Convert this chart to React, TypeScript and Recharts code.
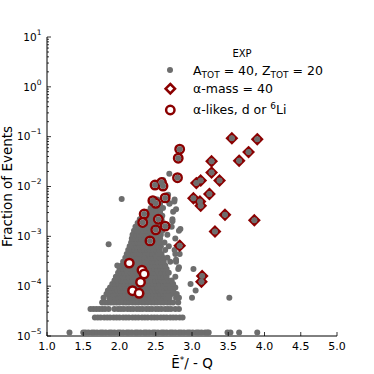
import React from 'react';
import { ScatterChart, Scatter, XAxis, YAxis, Customized } from 'recharts';

// ---------- axis ticks ----------
const xTickValues = [1.0, 1.5, 2.0, 2.5, 3.0, 3.5, 4.0, 4.5, 5.0];
const xTickLabels = ['1.0', '1.5', '2.0', '2.5', '3.0', '3.5', '4.0', '4.5', '5.0'];
const yDecades = [1e-5, 1e-4, 1e-3, 1e-2, 1e-1, 1, 10];
const yDecadeExponents = ['\u22125', '\u22124', '\u22123', '\u22122', '\u22121', '0', '1'];
const yMinorMultipliers = [2, 3, 4, 5, 6, 7, 8, 9];

// ---------- gray: all events (A_TOT = 40, Z_TOT = 20) ----------
const grayLevels = [
  1.17e-5, 2.34e-5, 3.5e-5, 4.7e-5, 5.85e-5, 7.0e-5, 8.2e-5, 9.4e-5, 1.1e-4, 1.3e-4,
  1.55e-4, 1.85e-4, 2.2e-4, 2.6e-4, 3.1e-4, 3.7e-4, 4.4e-4, 5.3e-4, 6.3e-4, 7.5e-4,
  9.0e-4, 1.08e-3, 1.3e-3, 1.55e-3, 1.85e-3, 2.2e-3, 2.6e-3, 3.1e-3, 3.7e-3, 4.5e-3, 5.5e-3,
];
const grayRowXs: number[][] = [
  [1.31, 1.50, 1.53, 1.57, 1.62, 1.65, 1.69, 1.74, 1.77, 1.81, 1.86, 1.89, 1.93, 1.98, 2.01, 2.05, 2.10, 2.13, 2.17, 2.22, 2.25, 2.29, 2.34, 2.37, 2.41, 2.46, 2.49, 2.53, 2.58, 2.61, 2.65, 2.70, 2.73, 2.77, 2.82, 2.85, 2.89, 2.94, 2.97, 3.01, 3.06, 3.09, 3.13, 3.18, 3.21, 3.23, 3.49, 3.53, 3.65, 3.90],
  [1.66, 1.70, 1.74, 1.79, 1.83, 1.87, 1.92, 1.96, 2.00, 2.05, 2.09, 2.13, 2.18, 2.22, 2.26, 2.31, 2.35, 2.39, 2.44, 2.48, 2.52, 2.57, 2.61, 2.65, 2.70, 2.74, 2.78, 2.83, 2.87],
  [1.60, 1.64, 1.68, 1.72, 1.76, 1.80, 1.85, 1.93, 1.98, 2.02, 2.06, 2.11, 2.15, 2.19, 2.24, 2.28, 2.32, 2.37, 2.41, 2.45, 2.50, 2.54, 2.58, 2.63, 2.67, 2.71, 2.77, 2.82],
  [1.76, 1.80, 1.84, 1.88, 1.92, 1.96, 2.00, 2.05, 2.09, 2.13, 2.18, 2.22, 2.26, 2.31, 2.35, 2.39, 2.44, 2.48, 2.52, 2.57, 2.61, 2.66, 2.70, 2.74, 2.81],
  [1.78, 1.86, 1.90, 1.94, 1.99, 2.03, 2.07, 2.12, 2.16, 2.20, 2.25, 2.29, 2.33, 2.38, 2.42, 2.46, 2.51, 2.55, 2.60, 2.64, 2.69, 2.78, 2.82, 3.00, 3.515],
  [1.82, 1.87, 1.91, 1.95, 2.00, 2.04, 2.08, 2.13, 2.17, 2.21, 2.26, 2.30, 2.34, 2.39, 2.43, 2.47, 2.52, 2.56, 2.61, 2.65, 2.72, 2.79],
  [1.84, 1.88, 1.93, 1.97, 2.01, 2.06, 2.10, 2.14, 2.19, 2.23, 2.27, 2.32, 2.36, 2.40, 2.45, 2.49, 2.53, 2.58, 2.62, 2.67, 2.74, 3.05],
  [1.87, 1.91, 1.95, 2.00, 2.04, 2.08, 2.13, 2.17, 2.21, 2.26, 2.30, 2.34, 2.39, 2.43, 2.47, 2.52, 2.56, 2.61, 2.65, 2.70, 2.77],
  [1.90, 1.94, 1.99, 2.03, 2.07, 2.12, 2.16, 2.20, 2.25, 2.29, 2.33, 2.38, 2.42, 2.46, 2.51, 2.55, 2.60, 2.64, 2.68, 2.74, 2.98],
  [1.93, 1.97, 2.02, 2.06, 2.10, 2.15, 2.19, 2.23, 2.28, 2.32, 2.36, 2.41, 2.45, 2.49, 2.54, 2.58, 2.62, 2.67, 2.72],
  [1.95, 2.00, 2.04, 2.08, 2.13, 2.17, 2.21, 2.26, 2.30, 2.34, 2.39, 2.43, 2.47, 2.52, 2.56, 2.60, 2.65, 2.77],
  [1.98, 2.02, 2.06, 2.11, 2.15, 2.19, 2.24, 2.28, 2.32, 2.37, 2.41, 2.45, 2.50, 2.54, 2.58, 2.63, 2.68],
  [2.00, 2.05, 2.09, 2.13, 2.18, 2.22, 2.26, 2.31, 2.35, 2.39, 2.44, 2.48, 2.52, 2.57, 2.61, 2.65, 2.81, 3.02],
  [1.97, 2.03, 2.07, 2.11, 2.16, 2.20, 2.24, 2.29, 2.33, 2.37, 2.42, 2.46, 2.50, 2.55, 2.59, 2.63],
  [2.05, 2.09, 2.14, 2.18, 2.22, 2.27, 2.31, 2.35, 2.40, 2.44, 2.48, 2.53, 2.57, 2.61, 2.70, 2.78],
  [2.08, 2.12, 2.16, 2.21, 2.25, 2.29, 2.34, 2.38, 2.42, 2.47, 2.51, 2.55, 2.60, 2.66],
  [2.10, 2.14, 2.19, 2.23, 2.27, 2.32, 2.36, 2.40, 2.45, 2.49, 2.53, 2.58, 2.77, 2.83],
  [2.12, 2.16, 2.21, 2.25, 2.29, 2.34, 2.38, 2.42, 2.47, 2.51, 2.55, 2.63, 2.76],
  [2.14, 2.18, 2.23, 2.27, 2.31, 2.36, 2.40, 2.44, 2.49, 2.53, 2.57, 2.68],
  [2.16, 2.20, 2.25, 2.29, 2.33, 2.38, 2.42, 2.46, 2.51, 2.55, 2.62],
  [2.17, 2.22, 2.26, 2.30, 2.35, 2.39, 2.43, 2.48, 2.52, 2.56, 2.77],
  [2.18, 2.23, 2.27, 2.31, 2.36, 2.40, 2.44, 2.49, 2.53, 2.57, 2.66],
  [2.20, 2.24, 2.29, 2.33, 2.37, 2.42, 2.46, 2.50, 2.55, 2.59, 2.82],
  [2.22, 2.27, 2.31, 2.35, 2.40, 2.44, 2.48, 2.53, 2.57, 2.72],
  [2.25, 2.29, 2.33, 2.38, 2.42, 2.46, 2.51, 2.55, 2.60],
  [2.28, 2.32, 2.37, 2.41, 2.45, 2.50, 2.54, 2.58, 2.73],
  [2.33, 2.37, 2.41, 2.46, 2.50, 2.55, 2.59],
  [2.38, 2.42, 2.47, 2.51, 2.56, 2.74],
  [2.43, 2.48, 2.53, 2.60],
  [2.46, 2.51, 2.56, 2.69],
  [2.52, 2.76],
];
const grayOutlierX = [2.03, 1.85, 2.687, 2.60, 2.67, 2.69, 2.756, 2.78, 2.84, 2.73, 2.82, 2.78];
const grayOutlierY = [5.6e-3, 6.9e-4, 1.8e-2, 1.35e-2, 6.8e-3, 4.6e-3, 5.0e-3, 3.5e-3, 1.4e-3, 2.0e-3, 2.4e-4, 3.4e-4];

// ---------- α-mass = 40 (diamonds) ----------
const alphaMassX = [3.55, 3.90, 3.78, 3.65, 3.27, 3.27, 3.38, 3.12, 3.06, 3.02, 3.11, 3.12, 3.24, 3.455, 3.317, 3.86, 2.83, 3.14, 3.13];
const alphaMassY = [0.093, 0.089, 0.049, 0.033, 0.032, 0.019, 0.0132, 0.0132, 0.0117, 0.0058, 0.0050, 0.0041, 0.0071, 0.0027, 0.00125, 0.0021, 0.00065, 0.00016, 0.000123];

// ---------- α-likes, d or 6Li (circles) ----------
const alphaLikeX = [2.83, 2.81, 2.80, 2.49, 2.58, 2.60, 2.63, 2.46, 2.50, 2.34, 2.535, 2.32, 2.63, 2.50, 2.42, 2.135, 2.31, 2.34, 2.29, 2.18, 2.27];
const alphaLikeY = [0.056, 0.037, 0.0150, 0.0107, 0.0120, 0.0102, 0.0059, 0.0052, 0.0046, 0.0028, 0.0022, 0.0019, 0.0016, 0.00135, 0.00081, 0.00029, 0.00021, 0.000176, 0.00012, 0.000081, 0.000072];
const alphaLikeGrayCentered = [0, 1, 2, 3, 4, 5, 6, 7, 8, 9, 10, 11, 12, 13, 14];

const GRAY = '#6d6d6d';
const RED = '#8b0000';
const FONT = '"DejaVu Sans", sans-serif';

const W = 374;
const H = 374;
const PLOT_LEFT = 47;
const PLOT_TOP = 37;
const PLOT_RIGHT = 337;
const PLOT_BOTTOM = 336;

const grayData = [
  ...grayLevels.flatMap((lv, i) => grayRowXs[i].map((x) => ({ x, y: lv }))),
  ...grayOutlierX.map((x, i) => ({ x, y: grayOutlierY[i] })),
];
const massData = alphaMassX.map((x, i) => ({ x, y: alphaMassY[i] }));
const likeData = alphaLikeX.map((x, i) => ({ x, y: alphaLikeY[i] }));
const grayTopData = [
  ...massData,
  ...alphaLikeGrayCentered.map((i) => likeData[i]),
];

const yTicks = [
  ...yDecades,
  ...yDecades.slice(0, -1).flatMap((d) => yMinorMultipliers.map((m) => d * m)),
].sort((a, b) => a - b);

const GrayDot = (p: any) => <circle cx={p.cx} cy={p.cy} r={3} fill={GRAY} />;
const Diamond = (p: any) => {
  const s = 4.7;
  const { cx, cy } = p;
  return (
    <polygon
      points={`${cx},${cy - s} ${cx + s},${cy} ${cx},${cy + s} ${cx - s},${cy}`}
      fill="#fff"
      stroke={RED}
      strokeWidth={2.5}
    />
  );
};
const Ring = (p: any) => (
  <circle cx={p.cx} cy={p.cy} r={4.2} fill="#fff" stroke={RED} strokeWidth={2.5} />
);

const XTick = (props: any) => {
  const { x, payload } = props;
  const idx = xTickValues.indexOf(payload.value);
  return (
    <g>
      <line x1={x} x2={x} y1={PLOT_BOTTOM} y2={PLOT_BOTTOM - 4} stroke="#000" strokeWidth={0.8} />
      <text x={x} y={350} textAnchor="middle" fontSize={11} fontFamily={FONT} fill="#000">
        {idx >= 0 ? xTickLabels[idx] : ''}
      </text>
    </g>
  );
};

const YTick = (props: any) => {
  const { y, payload } = props;
  const v = payload.value;
  const di = yDecades.findIndex((d) => Math.abs(d - v) / d < 1e-6);
  const major = di >= 0;
  return (
    <g>
      <line x1={PLOT_LEFT} x2={PLOT_LEFT + (major ? 4 : 2)} y1={y} y2={y} stroke="#000" strokeWidth={0.8} />
      {major && (
        <text x={41.5} y={y + 3.8} textAnchor="end" fontSize={10.5} fontFamily={FONT} fill="#000">
          10
          <tspan dy={-6} fontSize={7.5}>{yDecadeExponents[di]}</tspan>
        </text>
      )}
    </g>
  );
};

const Overlay = () => (
  <g fontFamily={FONT} fill="#000">
    <text
      x={12}
      y={186.5}
      transform="rotate(-90, 12, 186.5)"
      textAnchor="middle"
      fontSize={13.5}
    >
      Fraction of Events
    </text>
    <text x={192} y={368} textAnchor="middle" fontSize={13.5}>
      {'\u0112'}
      <tspan dy={-5} fontSize={9}>*</tspan>
      <tspan dy={5}>{'/ - Q'}</tspan>
    </text>
    {/* legend */}
    <text x={242} y={57} textAnchor="middle" fontSize={10}>EXP</text>
    <circle cx={170} cy={70} r={3} fill={GRAY} />
    <text x={193} y={74.5} fontSize={12.5}>
      A
      <tspan dy={3} fontSize={9}>TOT</tspan>
      <tspan dy={-3}>{' = 40, Z'}</tspan>
      <tspan dy={3} fontSize={9}>TOT</tspan>
      <tspan dy={-3}>{' = 20'}</tspan>
    </text>
    <polygon points="170.3,84 175,88.7 170.3,93.4 165.6,88.7" fill="#fff" stroke={RED} strokeWidth={2.5} />
    <text x={193} y={93} fontSize={12.5}>{'\u03b1-mass = 40'}</text>
    <circle cx={170.3} cy={110} r={4.2} fill="#fff" stroke={RED} strokeWidth={2.5} />
    <text x={193} y={113.5} fontSize={12.5}>
      {'\u03b1-likes, d or '}
      <tspan dy={-5} fontSize={9}>6</tspan>
      <tspan dy={5}>Li</tspan>
    </text>
  </g>
);

export default function App() {
  return (
    <div style={{ position: 'absolute', left: 0, top: 0, width: W, height: H, background: '#fff' }}>
      <ScatterChart
        width={W}
        height={H}
        margin={{ top: PLOT_TOP, right: W - PLOT_RIGHT, bottom: 0, left: 0 }}
      >
        <XAxis
          type="number"
          dataKey="x"
          domain={[1, 5]}
          ticks={xTickValues}
          interval={0}
          tickLine={false}
          axisLine={{ stroke: '#000', strokeWidth: 1 }}
          tick={<XTick />}
          height={H - PLOT_BOTTOM}
          allowDataOverflow
        />
        <YAxis
          type="number"
          dataKey="y"
          scale="log"
          domain={[1e-5, 10]}
          ticks={yTicks}
          interval={0}
          tickLine={false}
          axisLine={{ stroke: '#000', strokeWidth: 1 }}
          tick={<YTick />}
          width={PLOT_LEFT}
          allowDataOverflow
        />
        <Scatter data={grayData} fill={GRAY} shape={GrayDot} isAnimationActive={false} />
        <Scatter data={massData} fill={RED} shape={Diamond} isAnimationActive={false} />
        <Scatter data={likeData} fill={RED} shape={Ring} isAnimationActive={false} />
        <Scatter data={grayTopData} fill={GRAY} shape={GrayDot} isAnimationActive={false} />
        <Customized component={Overlay} />
      </ScatterChart>
    </div>
  );
}
